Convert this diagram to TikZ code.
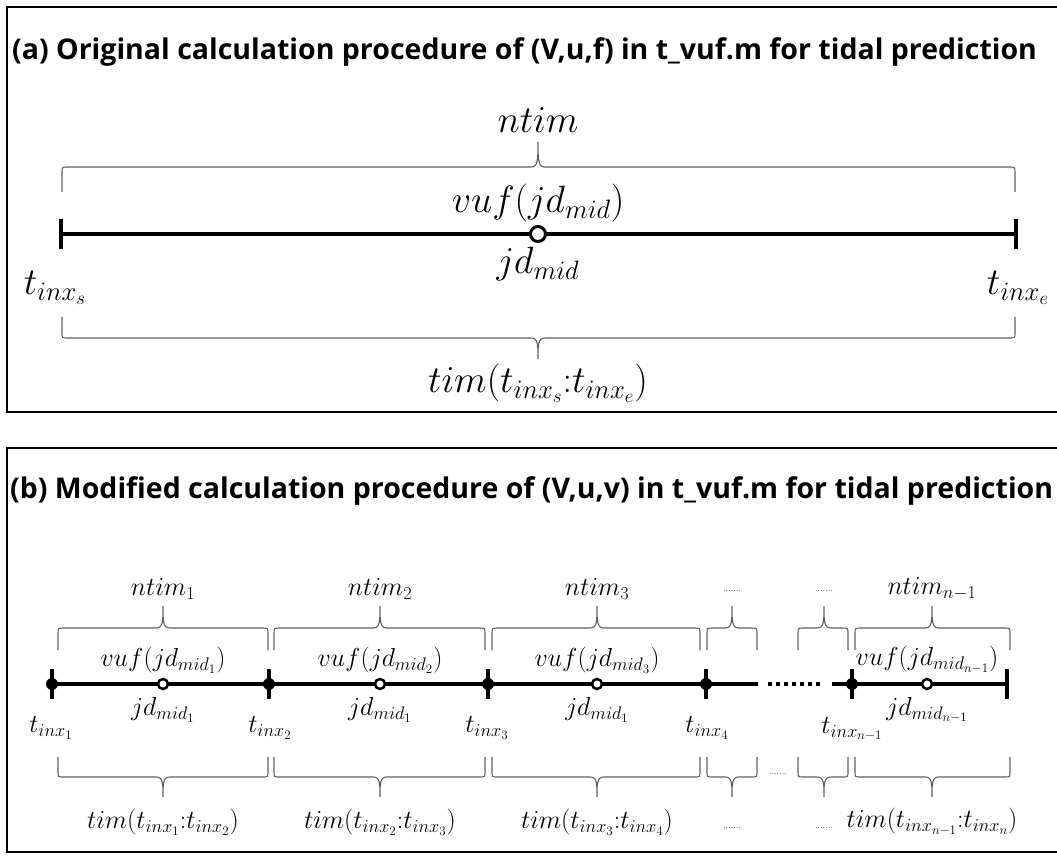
\RequirePackage{fix-cm}
\documentclass[tikz,border=0pt]{standalone}
\usepackage{amsmath}
\usepackage{fontspec}
\usepackage{tikz}
\usetikzlibrary{
    positioning,
    calc
}
\newfontfamily\headfont{Open Sans}[BoldFont={Open Sans Bold}]
\definecolor{brGray}{RGB}{95,95,95}
\tikzset{
  axisln/.style  = {line width=3.5pt, black},
  tickmk/.style  = {fill=black, minimum width=4pt, minimum height=30pt,
                    inner sep=0pt},
  fdot/.style    = {circle, fill=black, minimum size=12pt, inner sep=0pt},
  odota/.style   = {circle, draw, fill=white, line width=3pt,
                    minimum size=15pt, inner sep=0pt},
  odotb/.style   = {circle, draw, fill=white, line width=2.5pt,
                    minimum size=10pt, inner sep=0pt},
  brc/.style     = {draw=brGray, line width=1.1pt},
  ttl/.style     = {anchor=west, inner sep=0pt,
                    font=\headfont\bfseries\fontsize{28.5}{32}\selectfont},
  lbla/.style    = {inner sep=0pt, font=\fontsize{38}{46}\selectfont},
  lblb/.style    = {inner sep=0pt, font=\fontsize{26}{31}\selectfont},
  dotsl/.style   = {inner sep=0pt, font=\fontsize{9}{10}\selectfont},
  panel/.style   = {line width=2pt}
}
% straight-legged brace: x left, x right, x tip, y of ends, height (+ up, - down)
\newcommand{\tbrace}[5]{%
  \draw[brc] (#1,#4) -- (#1,{#4+0.75*(#5)})
    .. controls (#1,{#4+(#5)}) .. ({#1+6},{#4+(#5)})
    -- ({#3-7},{#4+(#5)})
    .. controls (#3,{#4+(#5)}) and (#3,{#4+1.3*(#5)}) .. (#3,{#4+2*(#5)})
    .. controls (#3,{#4+1.3*(#5)}) and (#3,{#4+(#5)}) .. ({#3+7},{#4+(#5)})
    -- ({#2-6},{#4+(#5)})
    .. controls (#2,{#4+(#5)}) .. (#2,{#4+0.75*(#5)}) -- (#2,#4);}

\begin{document}
\begin{tikzpicture}[x=1pt, y=1pt]
    \useasboundingbox (0,0) rectangle (1057,855);
    \clip (0,0) rectangle (1057,855);

    % (a) original procedure
    \draw[panel] (7,443) rectangle (1064,848);
    \node[ttl] (ttla) at (12,803)
      {(a) Original calculation procedure of (V,u,f) in t\_vuf.m for tidal prediction};

    \coordinate (ts) at (61,621);
    \coordinate (te) at (1016,621);
    \draw[axisln] (ts) -- (te);
    \node[tickmk] (tks) at (ts) {};
    \node[tickmk] (tke) at (te) {};
    \node[odota] (jm) at (538,621) {};

    \tbrace{62}{1015}{538}{663}{25}
    \tbrace{62}{1015}{538}{538}{-21}

    \node[lbla] (nta) at (538,735) {$ntim$};
    \node[lbla] (vufa) at (538,652) {$vuf(jd_{mid})$};
    \node[lbla] (jda) at (538,591) {$jd_{mid}$};
    \node[lbla] (tsl) at (55,567) {$t_{inx_s}$};
    \node[lbla] (tel) at (1018,567) {$t_{inx_e}$};
    \node[lbla] (tima) at (538,472) {$tim(t_{inx_s}{:}t_{inx_e})$};

    % (b) modified procedure
    \draw[panel] (7,3) rectangle (1064,407);
    \node[ttl] (ttlb) at (10,364)
      {(b) Modified calculation procedure of (V,u,v) in t\_vuf.m for tidal prediction};

    \coordinate (b1) at (52,171);
    \coordinate (b2) at (269,171);
    \coordinate (b3) at (488,171);
    \coordinate (b4) at (706,171);
    \coordinate (bcut) at (758,171);
    \coordinate (dl) at (768,171);
    \coordinate (dr) at (820,171);
    \coordinate (bres) at (832,171);
    \coordinate (bn) at (852,171);
    \coordinate (bend) at (1007,171);
    \draw[axisln] (b1) -- (bcut);
    \draw[axisln, dash pattern=on 4pt off 4pt] (dl) -- (dr);
    \draw[axisln] (bres) -- (bend);

    \node[tickmk] (tk1) at (b1) {};
    \node[tickmk] (tk2) at (b2) {};
    \node[tickmk] (tk3) at (b3) {};
    \node[tickmk] (tk4) at (b4) {};
    \node[tickmk] (tkn) at (bn) {};
    \node[tickmk] (tkend) at (bend) {};
    \node[fdot] (d1) at (b1) {};
    \node[fdot] (d2) at (b2) {};
    \node[fdot] (d3) at (b3) {};
    \node[fdot] (d4) at (b4) {};
    \node[fdot] (dn) at (bn) {};
    \node[odotb] (m1) at (163,171) {};
    \node[odotb] (m2) at (380,171) {};
    \node[odotb] (m3) at (597,171) {};
    \node[odotb] (mn) at (927,171) {};

    \tbrace{58}{268}{163}{205}{22}
    \tbrace{274}{485}{380}{205}{22}
    \tbrace{492}{700}{597}{205}{22}
    \tbrace{707}{757}{732}{205}{22}
    \tbrace{798}{848}{824}{205}{22}
    \tbrace{855}{1010}{932}{205}{22}
    \tbrace{58}{268}{163}{98}{-20}
    \tbrace{274}{485}{380}{98}{-20}
    \tbrace{492}{700}{597}{98}{-20}
    \tbrace{707}{757}{732}{98}{-20}
    \tbrace{798}{848}{824}{98}{-20}
    \tbrace{855}{1010}{932}{98}{-20}

    \node[lblb] (nt1) at (163,266) {$ntim_1$};
    \node[lblb] (nt2) at (380,266) {$ntim_2$};
    \node[lblb] (nt3) at (597,266) {$ntim_3$};
    \node[lblb] (ntn) at (932,266) {$ntim_{n-1}$};
    \node[dotsl] (tdot1) at (732,264) {.......};
    \node[dotsl] (tdot2) at (824,264) {.......};

    \node[lblb] (vuf1) at (163,195) {$vuf(jd_{mid_1})$};
    \node[lblb] (vuf2) at (380,195) {$vuf(jd_{mid_2})$};
    \node[lblb] (vuf3) at (597,195) {$vuf(jd_{mid_3})$};
    \node[lblb] (vufn) at (927,195) {$vuf(jd_{mid_{n-1}})$};

    \node[lblb] (jd1) at (163,145) {$jd_{mid_1}$};
    \node[lblb] (jd2) at (380,145) {$jd_{mid_1}$};
    \node[lblb] (jd3) at (597,145) {$jd_{mid_1}$};
    \node[lblb] (jdn) at (927,145) {$jd_{mid_{n-1}}$};

    \node[lblb] (tx1) at (51,127) {$t_{inx_1}$};
    \node[lblb] (tx2) at (270,127) {$t_{inx_2}$};
    \node[lblb] (tx3) at (487,127) {$t_{inx_3}$};
    \node[lblb] (tx4) at (707,127) {$t_{inx_4}$};
    \node[lblb] (txn) at (852,126) {$t_{inx_{n-1}}$};

    \node[dotsl] (mdot) at (778,81) {.......};
    \node[lblb] (tim1) at (163,33) {$tim(t_{inx_1}{:}t_{inx_2})$};
    \node[lblb] (tim2) at (380,33) {$tim(t_{inx_2}{:}t_{inx_3})$};
    \node[lblb] (tim3) at (597,33) {$tim(t_{inx_3}{:}t_{inx_4})$};
    \node[lblb] (timn) at (932,33) {$tim(t_{inx_{n-1}}{:}t_{inx_n})$};
    \node[dotsl] (bdot1) at (732,27) {.......};
    \node[dotsl] (bdot2) at (824,27) {.......};
\end{tikzpicture}
\end{document}
